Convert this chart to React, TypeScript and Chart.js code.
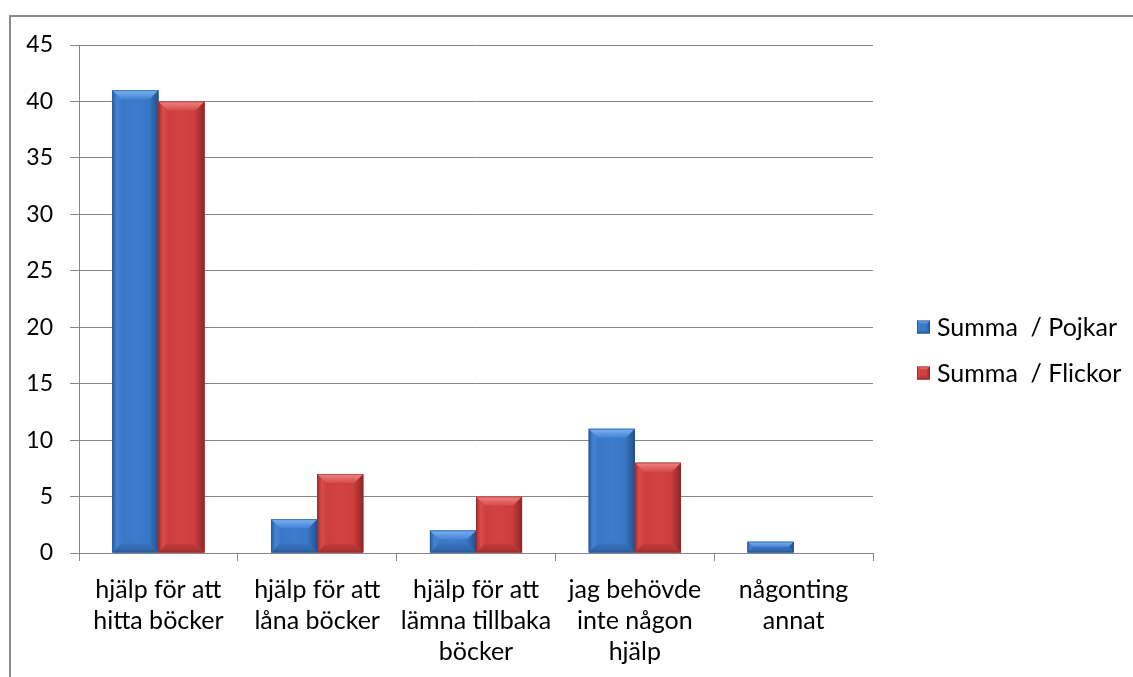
import React, { useEffect, useRef } from "react";
import { Chart, registerables } from "chart.js";

Chart.register(...registerables);

const categories: string[][] = [
  ["hjälp för att", "hitta böcker"],
  ["hjälp för att", "låna böcker"],
  ["hjälp för att", "lämna tillbaka", "böcker"],
  ["jag behövde", "inte någon", "hjälp"],
  ["någonting", "annat"],
];
const seriesNames: string[] = ["Summa  / Pojkar", "Summa  / Flickor"];
const pojkar: number[] = [41, 3, 2, 11, 1];
const flickor: number[] = [40, 7, 5, 8, 0];
const yTicks: number[] = [0, 5, 10, 15, 20, 25, 30, 35, 40, 45];

type Palette = { dark: string; base: string; mid: string; light: string; side: string; shade: string };

const BLUE: Palette = {
  dark: "#23508c",
  base: "#3873c2",
  mid: "#3c7bcd",
  light: "#7db3f2",
  side: "#4384d5",
  shade: "#2c5f9f",
};
const RED: Palette = {
  dark: "#8e2626",
  base: "#c93b3b",
  mid: "#d24242",
  light: "#f08585",
  side: "#d64b4b",
  shade: "#a23030",
};
const palettes = [BLUE, RED];

const GRID = "#868686";
const FONT = "Lato";

function poly(ctx: CanvasRenderingContext2D, pts: number[][], fill: string | CanvasGradient) {
  ctx.beginPath();
  ctx.moveTo(pts[0][0], pts[0][1]);
  for (let i = 1; i < pts.length; i++) ctx.lineTo(pts[i][0], pts[i][1]);
  ctx.closePath();
  ctx.fillStyle = fill;
  ctx.fill();
}

// Draws a bevelled rectangle in the style of an Office "circle" bevel.
function drawBevel(ctx: CanvasRenderingContext2D, left: number, top: number, right: number, bottom: number, pal: Palette, maxBevel: number) {
  const w = right - left;
  const h = bottom - top;
  if (h <= 0.5 || w <= 0) return;
  const b = Math.min(maxBevel, h / 2, w / 4);
  ctx.save();

  const body = ctx.createLinearGradient(left, 0, right, 0);
  body.addColorStop(0, pal.base);
  body.addColorStop(0.5, pal.mid);
  body.addColorStop(1, pal.base);
  ctx.fillStyle = body;
  ctx.fillRect(left, top, w, h);

  // left bevel
  const lg = ctx.createLinearGradient(left, 0, left + b, 0);
  lg.addColorStop(0, pal.shade);
  lg.addColorStop(0.5, pal.side);
  lg.addColorStop(1, pal.mid);
  poly(ctx, [[left, top], [left + b, top + b], [left + b, bottom - b], [left, bottom]], lg);

  // right bevel
  const rg = ctx.createLinearGradient(right - b, 0, right, 0);
  rg.addColorStop(0, pal.base);
  rg.addColorStop(0.6, pal.shade);
  rg.addColorStop(1, pal.dark);
  poly(ctx, [[right, top], [right, bottom], [right - b, bottom - b], [right - b, top + b]], rg);

  // bottom bevel
  const bg = ctx.createLinearGradient(0, bottom - b, 0, bottom);
  bg.addColorStop(0, pal.base);
  bg.addColorStop(1, pal.shade);
  poly(ctx, [[left, bottom], [left + b, bottom - b], [right - b, bottom - b], [right, bottom]], bg);

  // top bevel
  const tg = ctx.createLinearGradient(0, top, 0, top + b);
  tg.addColorStop(0, pal.light);
  tg.addColorStop(1, pal.side);
  poly(ctx, [[left, top], [right, top], [right - b, top + b], [left + b, top + b]], tg);

  ctx.strokeStyle = pal.dark;
  ctx.globalAlpha = 0.55;
  ctx.lineWidth = 1;
  ctx.strokeRect(left + 0.5, top + 0.5, w - 1, h - 1);
  ctx.restore();
}

const bevelPlugin = {
  id: "bevelBars",
  afterDatasetsDraw(chart: any) {
    const ctx: CanvasRenderingContext2D = chart.ctx;
    chart.data.datasets.forEach((_: any, di: number) => {
      const meta = chart.getDatasetMeta(di);
      meta.data.forEach((bar: any) => {
        const p = bar.getProps(["x", "y", "base", "width"], true);
        const left = p.x - p.width / 2;
        const right = p.x + p.width / 2;
        const top = Math.min(p.y, p.base);
        const bottom = Math.max(p.y, p.base);
        drawBevel(ctx, left, top, right, bottom, palettes[di], 9);
      });
    });
  },
  afterDraw(chart: any) {
    const ctx: CanvasRenderingContext2D = chart.ctx;
    const x0 = chart.chartArea.right + 44;
    const rows = [327, 373];
    ctx.save();
    ctx.font = `25px ${FONT}`;
    ctx.textBaseline = "middle";
    ctx.fillStyle = "#000";
    seriesNames.forEach((name, i) => {
      const cy = rows[i];
      drawBevel(ctx, x0, cy - 6.5, x0 + 13, cy + 6.5, palettes[i], 4);
      ctx.fillStyle = "#000";
      ctx.fillText(name, x0 + 20, cy + 1);
    });
    ctx.restore();
  },
};

export default function App() {
  const ref = useRef<HTMLCanvasElement>(null);

  useEffect(() => {
    if (!ref.current) return;
    const chart = new Chart(ref.current, {
      type: "bar",
      data: {
        labels: categories,
        datasets: [
          { label: seriesNames[0], data: pojkar, backgroundColor: BLUE.base },
          { label: seriesNames[1], data: flickor, backgroundColor: RED.base },
        ],
      },
      options: {
        responsive: false,
        animation: false,
        events: [],
        layout: { padding: { top: 45, left: 0, right: 260, bottom: 0 } },
        plugins: {
          legend: { display: false },
          tooltip: { enabled: false },
          title: { display: false },
        },
        datasets: {
          bar: { categoryPercentage: 0.58, barPercentage: 1 },
        },
        scales: {
          x: {
            afterFit: (s: any) => {
              s.height = 124;
            },
            grid: {
              offset: true,
              drawOnChartArea: false,
              drawTicks: true,
              tickLength: 8,
              color: GRID,
            },
            border: { display: true, color: GRID, width: 1 },
            ticks: {
              color: "#000",
              font: { family: FONT, size: 25, lineHeight: 31 / 25 },
              padding: 13,
              maxRotation: 0,
              autoSkip: false,
            },
          },
          y: {
            min: 0,
            max: 45,
            afterFit: (s: any) => {
              s.width = 79;
            },
            afterBuildTicks: (s: any) => {
              s.ticks = yTicks.map((v) => ({ value: v }));
            },
            grid: { color: GRID, tickLength: 9, drawTicks: true },
            border: { display: true, color: GRID, width: 1 },
            ticks: {
              color: "#000",
              font: { family: FONT, size: 23 },
              padding: 17,
            },
          },
        },
      },
      plugins: [bevelPlugin],
    });
    return () => chart.destroy();
  }, []);

  return (
    <div style={{ position: "absolute", left: 0, top: 0, width: 1133, height: 677, overflow: "hidden", background: "#fff" }}>
      <div
        style={{
          position: "absolute",
          left: 9,
          top: 15,
          width: 1300,
          height: 900,
          borderTop: "2px solid #8c8c8c",
          borderLeft: "2px solid #8c8c8c",
        }}
      />
      <canvas ref={ref} width={1133} height={677} style={{ position: "absolute", left: 0, top: 0 }} />
    </div>
  );
}
